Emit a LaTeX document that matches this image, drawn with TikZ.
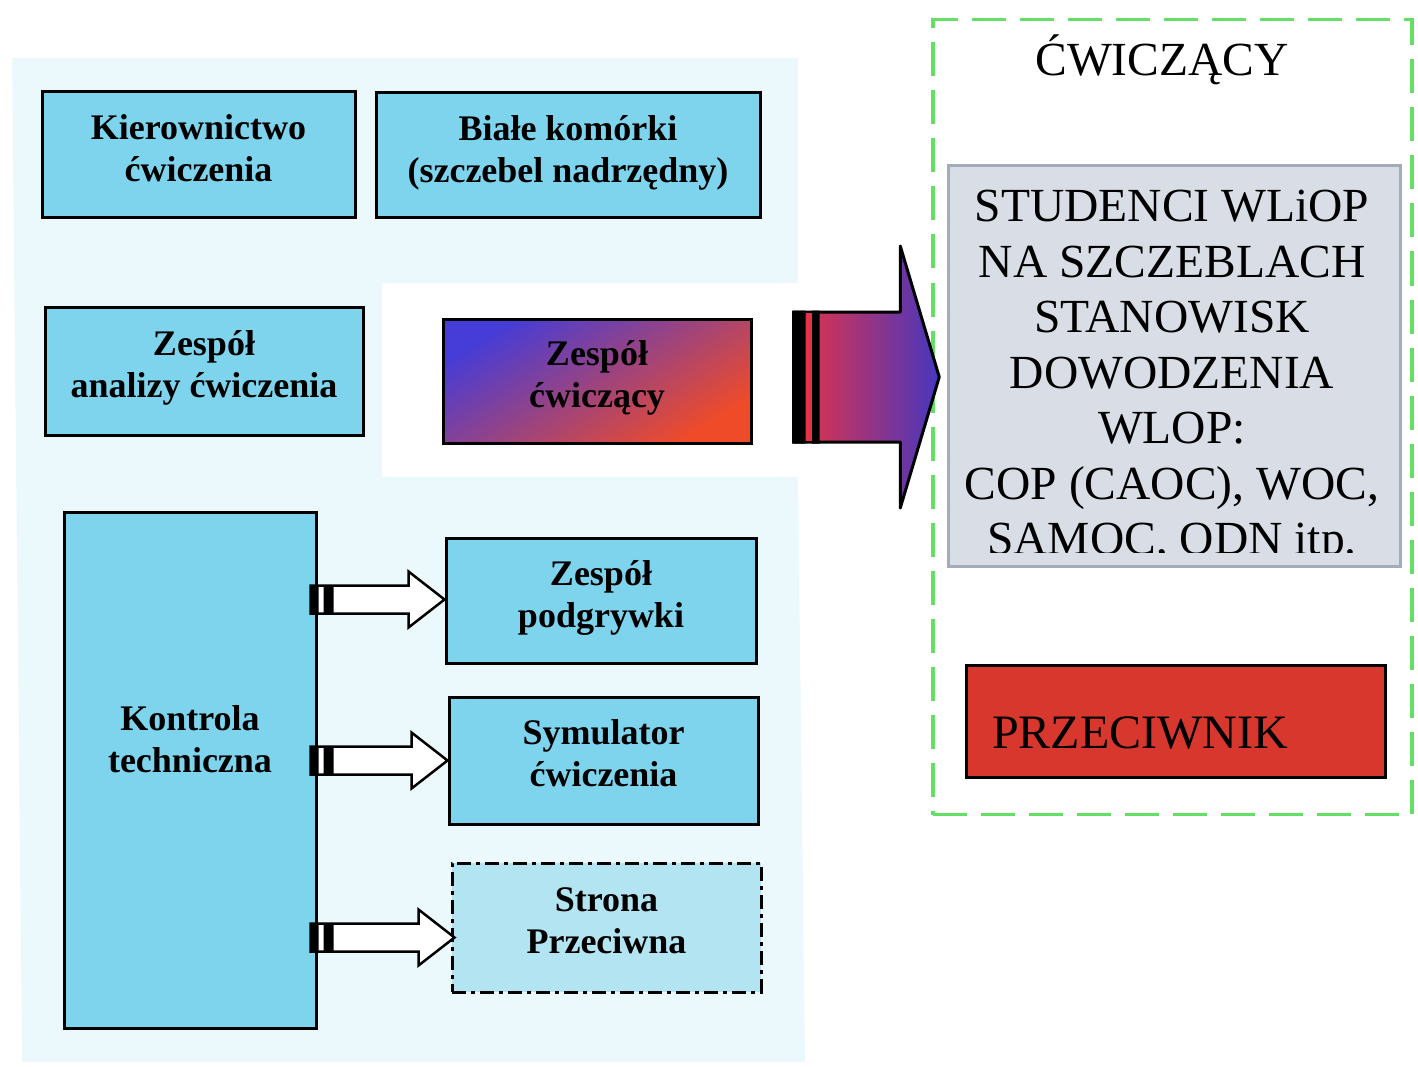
\documentclass[tikz,border=0pt]{standalone}
\usepackage{fontspec}
\setmainfont{Liberation Serif}
\usetikzlibrary{calc}
\definecolor{boxblue}{RGB}{125,212,236}
\definecolor{paleblue}{RGB}{236,249,252}
\definecolor{lightbox}{RGB}{178,228,242}
\definecolor{greyfill}{RGB}{216,221,230}
\definecolor{greyline}{RGB}{165,172,185}
\definecolor{framegreen}{RGB}{100,222,100}
\definecolor{redbox}{RGB}{215,55,45}
\definecolor{gblue}{RGB}{70,60,215}
\definecolor{gmag}{RGB}{232,35,150}
\definecolor{gred}{RGB}{240,75,40}
\definecolor{aredd}{RGB}{232,50,70}
\definecolor{amag}{RGB}{200,40,175}
\definecolor{ablue}{RGB}{70,55,190}
\newcommand\fatarrow[2]{%
  \draw[line width=2.5pt, fill=white, line join=miter] let \p1=#1, \p2=#2 in
    (\x1,\y1-14pt) -- (\x2-36pt,\y1-14pt) -- (\x2-36pt,\y1-28pt) -- (\x2,\y1)
    -- (\x2-36pt,\y1+28pt) -- (\x2-36pt,\y1+14pt) -- (\x1,\y1+14pt) -- cycle;
  \fill let \p1=#1 in (\x1,\y1-14pt) rectangle (\x1+8pt,\y1+14pt)
    (\x1+13pt,\y1-14pt) rectangle (\x1+23pt,\y1+14pt);
}
\begin{document}
\begin{tikzpicture}[x=1pt,y=-1pt,
  lbox/.style={draw=black, line width=3pt, fill=boxblue, align=center, inner sep=0pt,
    text depth=14pt, font=\bfseries\fontsize{36}{42}\selectfont},
  ltext/.style={align=center, font=\bfseries\fontsize{36}{42}\selectfont},
  bigtext/.style={font=\fontsize{47.5}{55.5}\selectfont, align=center, inner sep=0pt}]
\useasboundingbox (0,0) rectangle (1418,1067);
% pale background panel
\fill[paleblue] (12,58) -- (798,58) -- (798,283) -- (382,283) -- (382,477) -- (798,477)
  -- (805,1062) -- (22,1062) -- cycle;
% left boxes
\node[lbox, minimum width=313, minimum height=126] (kc) at (198.5,155) {Kierownictwo\\ćwiczenia};
\node[lbox, minimum width=384, minimum height=125] (bk) at (568,155.5) {Białe komórki\\(szczebel nadrzędny)};
\node[lbox, minimum width=318, minimum height=128] (za) at (204,371) {Zespół\\analizy ćwiczenia};
\node[lbox, minimum width=308, minimum height=124, fill=none, left color=gblue, middle color=gmag,
  right color=gred, shading angle=32] (zc) at (597,381) {Zespół\\ćwiczący};
\node[lbox, minimum width=252, minimum height=516] (kt) at (190,770) {};
\node[ltext] (ktl) at ($(kt.center)+(0,-31)$) {Kontrola\\techniczna};
\node[lbox, minimum width=310, minimum height=125] (zp) at (601,600.5) {Zespół\\podgrywki};
\node[lbox, minimum width=309, minimum height=127] (sc) at (603.5,760.5) {Symulator\\ćwiczenia};
\node[lbox, minimum width=309, minimum height=129, fill=lightbox,
  dash pattern=on 14pt off 5pt on 4pt off 5pt] (sp) at (606.5,927.5) {Strona\\Przeciwna};
% white arrows
\fatarrow{($(kt.east |- zp.west)+(-7,-1)$)}{(zp.west)}
\fatarrow{($(kt.east |- sc.west)+(-7,0)$)}{(sc.west)}
\fatarrow{($(kt.east |- sp.west)+(-7,10)$)}{($(sp.west)+(4,0)$)}
% right frame
\node[draw=framegreen, line width=3.5pt, dash pattern=on 34pt off 14pt,
  minimum width=479, minimum height=795] (fr) at (1172.5,417) {};
\node[font=\fontsize{47.5}{55}\selectfont, inner sep=0pt] (cw) at (1162,60) {ĆWICZĄCY};
\node[draw=greyline, fill=greyfill, line width=3pt, minimum width=452, minimum height=400] (st) at (1174,366) {};
\begin{scope}
\clip (948,166) rectangle (1400,552);
\node[bigtext, anchor=north] (stt) at (1172,190) {STUDENCI WLiOP\\NA SZCZEBLACH\\STANOWISK\\DOWODZENIA\\WLOP:\\COP (CAOC), WOC,\\SAMOC, ODN itp.};
\end{scope}
\node[draw=black, fill=redbox, line width=3pt, minimum width=419, minimum height=112] (pr) at (1175.5,721) {};
\node[font=\fontsize{48}{55}\selectfont, anchor=base west, inner sep=0pt] (prt) at (992,748) {PRZECIWNIK};
% big arrow
\coordinate (ba) at ($(zc.east)+(41,-4)$);
\coordinate (bt) at ($(fr.west |- ba)+(8,0)$);
\draw[line width=3pt, line join=round, left color=aredd, middle color=amag, right color=ablue]
  let \p1=(ba), \p2=(bt) in
  (\x1,\y1+65pt) -- (\x2-39pt,\y1+65pt) -- (\x2-39pt,\y1+131pt) -- (\x2,\y1)
  -- (\x2-39pt,\y1-131pt) -- (\x2-39pt,\y1-65pt) -- (\x1,\y1-65pt) -- cycle;
\fill let \p1=(ba) in (\x1-1.5pt,\y1-66.5pt) rectangle (\x1+12pt,\y1+66.5pt)
  (\x1+18pt,\y1-66.5pt) rectangle (\x1+26pt,\y1+66.5pt);
\fill[aredd] let \p1=(ba) in (\x1+12pt,\y1-64pt) rectangle (\x1+18pt,\y1+64pt);
\end{tikzpicture}
\end{document}
